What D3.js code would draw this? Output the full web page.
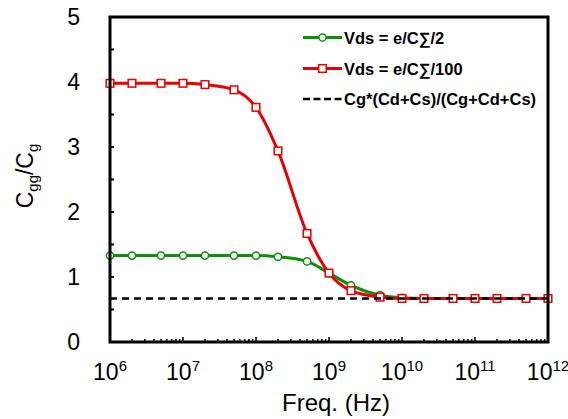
<!DOCTYPE html>
<html>
<head>
<meta charset="utf-8">
<script src="https://cdn.jsdelivr.net/npm/d3@7"></script>
<style>
  body { margin: 0; background: #fff; }
  text { font-family: "Liberation Sans", Arial, sans-serif; }
</style>
</head>
<body>
<svg width="568" height="419"></svg>
<script>
let freqs = [1e6, 2e6, 5e6, 1e7, 2e7, 5e7, 1e8, 2e8, 5e8, 1e9, 2e9, 5e9,
             1e10, 2e10, 5e10, 1e11, 2e11, 5e11, 1e12];
let halfVals = [1.33, 1.33, 1.33, 1.33, 1.33, 1.33, 1.33, 1.31, 1.24, 1.06, 0.87, 0.72,
                0.68, 0.67, 0.67, 0.67, 0.67, 0.67, 0.67];
let hundredthVals = [3.98, 3.98, 3.98, 3.98, 3.96, 3.88, 3.61, 2.94, 1.67, 1.06, 0.79, 0.69,
                     0.67, 0.67, 0.67, 0.67, 0.67, 0.67, 0.67];
let limitVal = 0.67;
let xDecades = [6, 7, 8, 9, 10, 11, 12];
let yTicks = [0, 1, 2, 3, 4, 5];
let legendLabels = ['Vds = e/C\u2211/2', 'Vds = e/C\u2211/100', 'Cg*(Cd+Cs)/(Cg+Cd+Cs)'];

let green = '#108c10';
let red = '#e60000';

let plotLeft = 110, plotRight = 548, plotTop = 17, plotBottom = 342;

let svg = d3.select('svg');

let x = d3.scaleLog()
    .domain([1e6, 1e12])
    .range([plotLeft, plotRight]);

let y = d3.scaleLinear()
    .domain([0, 5])
    .range([plotBottom, plotTop]);

// minor ticks along the bottom (inside)
let minorX = [];
for (let d = 6; d < 12; d++) {
    for (let m = 2; m <= 9; m++) minorX.push(m * Math.pow(10, d));
}
svg.append('g')
    .selectAll('line')
    .data(minorX)
    .enter()
    .append('line')
        .attr('x1', d => x(d))
        .attr('x2', d => x(d))
        .attr('y1', plotBottom)
        .attr('y2', plotBottom - 3)
        .attr('stroke', 'black')
        .attr('stroke-width', 1.5);

svg.append('g')
    .selectAll('line')
    .data(xDecades.slice(1, -1))
    .enter()
    .append('line')
        .attr('x1', d => x(Math.pow(10, d)))
        .attr('x2', d => x(Math.pow(10, d)))
        .attr('y1', plotBottom)
        .attr('y2', plotBottom - 5)
        .attr('stroke', 'black')
        .attr('stroke-width', 1.5);

// y ticks every 0.5 (inside)
svg.append('g')
    .selectAll('line')
    .data(d3.range(0.5, 5, 0.5))
    .enter()
    .append('line')
        .attr('x1', plotLeft)
        .attr('x2', plotLeft + 4)
        .attr('y1', d => y(d))
        .attr('y2', d => y(d))
        .attr('stroke', 'black')
        .attr('stroke-width', 2);

// tick labels
svg.append('g')
    .selectAll('text')
    .data(yTicks)
    .enter()
    .append('text')
        .attr('x', 80)
        .attr('y', d => y(d) + 8)
        .attr('text-anchor', 'end')
        .attr('font-size', 23)
        .text(d => d);

let xl = svg.append('g')
    .selectAll('text')
    .data(xDecades)
    .enter()
    .append('text')
        .attr('x', d => x(Math.pow(10, d)))
        .attr('y', 380)
        .attr('text-anchor', 'middle')
        .attr('font-size', 23);
xl.append('tspan').text('10');
xl.append('tspan')
    .attr('font-size', 15)
    .attr('dy', -9)
    .text(d => d);

// axis titles
svg.append('text')
    .attr('x', 336)
    .attr('y', 411)
    .attr('text-anchor', 'middle')
    .attr('font-size', 24)
    .text('Freq. (Hz)');

let yt = svg.append('text')
    .attr('transform', 'translate(33 176) rotate(-90)')
    .attr('text-anchor', 'middle')
    .attr('font-size', 23);
yt.append('tspan').text('C');
yt.append('tspan').attr('font-size', 15).attr('dy', 5).text('gg');
yt.append('tspan').attr('dy', -5).text('/C');
yt.append('tspan').attr('font-size', 15).attr('dy', 5).text('g');

// series
let line = d3.line()
    .x(d => x(d[0]))
    .y(d => y(d[1]))
    .curve(d3.curveMonotoneX);

let series = [
    { vals: halfVals, color: green, shape: 'circle' },
    { vals: hundredthVals, color: red, shape: 'square' }
];

series.forEach(s => {
    let pts = freqs.map((f, i) => [f, s.vals[i]]);
    svg.append('path')
        .attr('d', line(pts))
        .attr('fill', 'none')
        .attr('stroke', s.color)
        .attr('stroke-width', 3);
    let g = svg.append('g');
    if (s.shape === 'circle') {
        g.selectAll('circle')
            .data(pts)
            .enter()
            .append('circle')
                .attr('cx', d => x(d[0]))
                .attr('cy', d => y(d[1]))
                .attr('r', 3.6)
                .attr('fill', 'white')
                .attr('stroke', s.color)
                .attr('stroke-width', 1.5);
    } else {
        g.selectAll('rect')
            .data(pts)
            .enter()
            .append('rect')
                .attr('x', d => x(d[0]) - 3.8)
                .attr('y', d => y(d[1]) - 3.8)
                .attr('width', 7.6)
                .attr('height', 7.6)
                .attr('fill', 'white')
                .attr('stroke', s.color)
                .attr('stroke-width', 1.5);
    }
});

svg.append('line')
    .attr('x1', plotLeft)
    .attr('x2', plotRight)
    .attr('y1', y(limitVal))
    .attr('y2', y(limitVal))
    .attr('stroke', 'black')
    .attr('stroke-width', 2.5)
    .attr('stroke-dasharray', '7,5');

// frame
svg.append('rect')
    .attr('x', plotLeft)
    .attr('y', plotTop)
    .attr('width', plotRight - plotLeft)
    .attr('height', plotBottom - plotTop)
    .attr('fill', 'none')
    .attr('stroke', 'black')
    .attr('stroke-width', 3);

// legend
let legendY = [37.5, 68.5, 99];
let leg = svg.append('g')
    .selectAll('g')
    .data(legendLabels)
    .enter()
    .append('g')
        .attr('transform', (d, i) => `translate(303 ${legendY[i]})`);

leg.append('line')
    .attr('x1', 0)
    .attr('x2', 39)
    .attr('stroke', (d, i) => i === 0 ? green : i === 1 ? red : 'black')
    .attr('stroke-width', (d, i) => i === 2 ? 2.5 : 3)
    .attr('stroke-dasharray', (d, i) => i === 2 ? '7,3.5' : null);

leg.filter((d, i) => i === 0)
    .append('circle')
        .attr('cx', 19.5)
        .attr('r', 3.6)
        .attr('fill', 'white')
        .attr('stroke', green)
        .attr('stroke-width', 1.5);

leg.filter((d, i) => i === 1)
    .append('rect')
        .attr('x', 15.7)
        .attr('y', -3.8)
        .attr('width', 7.6)
        .attr('height', 7.6)
        .attr('fill', 'white')
        .attr('stroke', red)
        .attr('stroke-width', 1.5);

leg.append('text')
    .attr('x', 41)
    .attr('y', 6)
    .attr('font-family', 'Lato, sans-serif')
    .attr('font-weight', 900)
    .attr('font-size', 16.5)
    .text(d => d);
</script>
</body>
</html>
